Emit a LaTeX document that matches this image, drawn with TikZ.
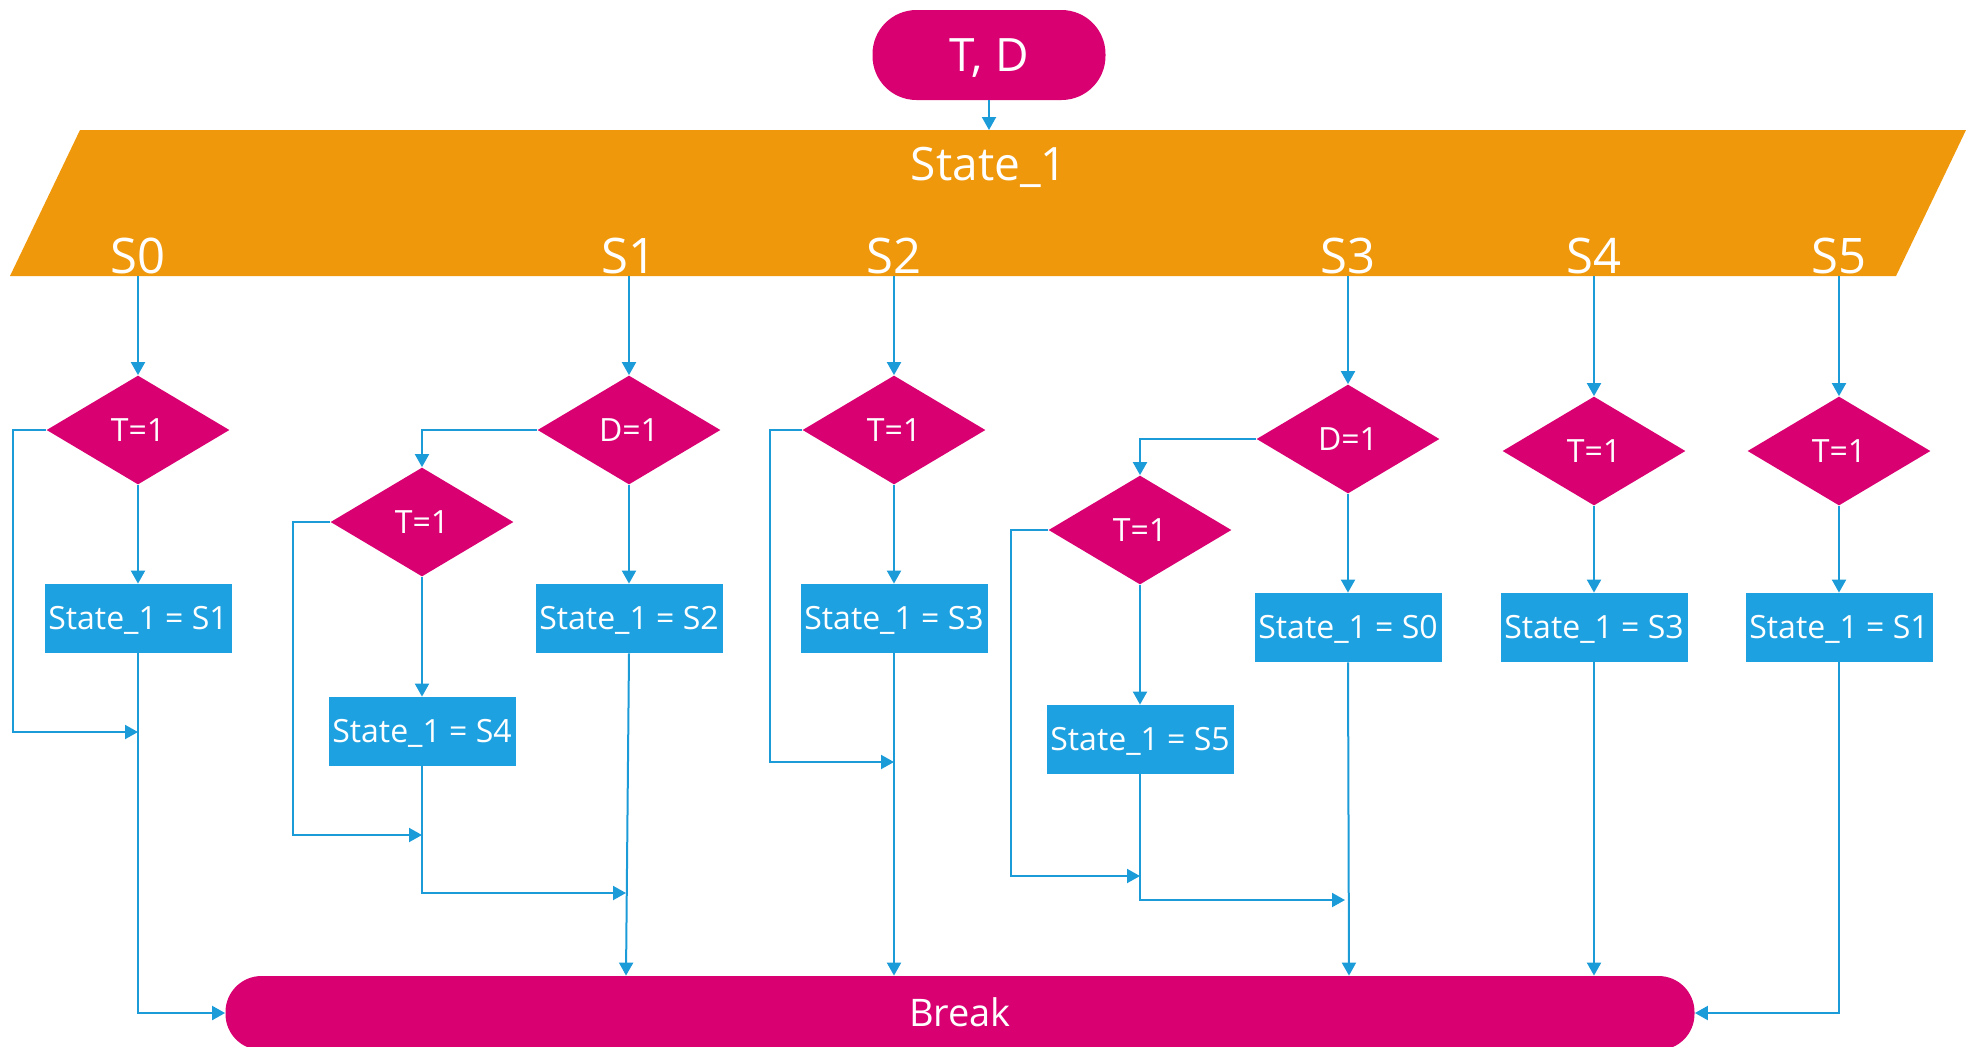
\documentclass[tikz,border=0pt]{standalone}
\usepackage{fontspec}
\setmainfont{Open Sans}
\usetikzlibrary{shapes.geometric,arrows.meta}
\definecolor{mag}{RGB}{217,0,114}
\definecolor{orng}{RGB}{240,152,11}
\definecolor{bbox}{RGB}{30,161,224}
\definecolor{lnc}{RGB}{27,155,216}
\begin{document}
\begin{tikzpicture}[x=0.5pt,y=-0.5pt,
 dec/.style={diamond, fill=mag, draw=none, minimum width=91.5pt, minimum height=54.5pt, inner sep=0pt, text=white, font=\fontsize{16}{18}\selectfont, text height=11.4pt, text depth=0pt},
 asg/.style={rectangle, fill=bbox, minimum width=93.5pt, minimum height=34.5pt, inner sep=0pt, text=white, font=\fontsize{16}{18}\selectfont, text height=11.4pt, text depth=0pt},
 term/.style={rectangle, fill=mag, inner sep=0pt, text=white},
 lab/.style={text=white, inner sep=0pt, anchor=base},
 conn/.style={draw=lnc, line width=1pt, -{Triangle[length=6.5pt,width=7pt]}}
]
\useasboundingbox (0,0) rectangle (1966,1046);
% start terminal
\node[term, minimum width=116.5pt, minimum height=45pt, rounded corners=22pt, font=\fontsize{23}{26}\selectfont, text height=16.4pt, text depth=0pt] (td) at (989,55) {T, D};
% state parallelogram
\fill[orng] (80,130) -- (1966,130) -- (1896,276) -- (10,276) -- cycle;
\coordinate (ptop) at (989,130);
\node[lab, font=\fontsize{23}{26}\selectfont] (st) at (989,180) {State\_1};
\node[lab, font=\fontsize{24.5}{28}\selectfont] (l0) at (138,273) {S0};
\node[lab, font=\fontsize{24.5}{28}\selectfont] (l1) at (629,273) {S1};
\node[lab, font=\fontsize{24.5}{28}\selectfont] (l2) at (894,273) {S2};
\node[lab, font=\fontsize{24.5}{28}\selectfont] (l3) at (1348,273) {S3};
\node[lab, font=\fontsize{24.5}{28}\selectfont] (l4) at (1594,273) {S4};
\node[lab, font=\fontsize{24.5}{28}\selectfont] (l5) at (1839,273) {S5};
\coordinate (p0) at (138,276);
\coordinate (p1) at (629,276);
\coordinate (p2) at (894,276);
\coordinate (p3) at (1348,276);
\coordinate (p4) at (1594,276);
\coordinate (p5) at (1839,276);
% decisions
\node[dec] (d0) at (138,430) {T=1};
\node[dec] (d1) at (629,430) {D=1};
\node[dec] (d1b) at (422,522) {T=1};
\node[dec] (d2) at (894,430) {T=1};
\node[dec] (d3) at (1348,439) {D=1};
\node[dec] (d3b) at (1140,530) {T=1};
\node[dec] (d4) at (1594,451) {T=1};
\node[dec] (d5) at (1839,451) {T=1};
% assignments
\node[asg] (b0) at (138,618.5) {State\_1 = S1};
\node[asg] (b1) at (629,618.5) {State\_1 = S2};
\node[asg] (b1b) at (422,731.5) {State\_1 = S4};
\node[asg] (b2) at (894,618.5) {State\_1 = S3};
\node[asg] (b3) at (1348,627.5) {State\_1 = S0};
\node[asg] (b3b) at (1140,739.5) {State\_1 = S5};
\node[asg] (b4) at (1594,627.5) {State\_1 = S3};
\node[asg] (b5) at (1839,627.5) {State\_1 = S1};
% end terminal
\node[term, minimum width=734.5pt, minimum height=37pt, rounded corners=18pt, font=\fontsize{19}{22}\selectfont, text height=13.6pt, text depth=0pt] (brk) at (960,1013) {Break};
% connectors
\draw[conn] (td.south) -- (ptop);
% S0
\draw[conn] (p0) -- (d0.north);
\draw[conn] (d0.south) -- (b0.north);
\coordinate (k0) at (12.5,732);
\coordinate (j0) at (138,732);
\draw[conn] (d0.west) -| (k0) -- (j0);
\draw[conn] (b0.south) |- (brk.west);
% S1
\draw[conn] (p1) -- (d1.north);
\draw[conn] (d1.south) -- (b1.north);
\draw[conn] (d1.west) -| (d1b.north);
\draw[conn] (d1b.south) -- (b1b.north);
\coordinate (k1) at (293,835);
\coordinate (j1) at (422,835);
\draw[conn] (d1b.west) -| (k1) -- (j1);
\coordinate (m1) at (626,893);
\draw[conn] (b1b.south) |- (m1);
\draw[conn] (b1.south) -- (brk.north -| m1);
% S2
\draw[conn] (p2) -- (d2.north);
\draw[conn] (d2.south) -- (b2.north);
\coordinate (k2) at (770,762);
\coordinate (j2) at (894,762);
\draw[conn] (d2.west) -| (k2) -- (j2);
\draw[conn] (b2.south) -- (b2.south |- brk.north);
% S3
\draw[conn] (p3) -- (d3.north);
\draw[conn] (d3.south) -- (b3.north);
\draw[conn] (d3.west) -| (d3b.north);
\draw[conn] (d3b.south) -- (b3b.north);
\coordinate (k3) at (1011,876);
\coordinate (j3) at (1140,876);
\draw[conn] (d3b.west) -| (k3) -- (j3);
\coordinate (m3) at (1345,900);
\draw[conn] (b3b.south) |- (m3);
\coordinate (e3) at (1349,960);
\draw[conn] (b3.south) -- (brk.north -| e3);
% S4
\draw[conn] (p4) -- (d4.north);
\draw[conn] (d4.south) -- (b4.north);
\draw[conn] (b4.south) -- (b4.south |- brk.north);
% S5
\draw[conn] (p5) -- (d5.north);
\draw[conn] (d5.south) -- (b5.north);
\draw[conn] (b5.south) |- (brk.east);
\end{tikzpicture}
\end{document}
